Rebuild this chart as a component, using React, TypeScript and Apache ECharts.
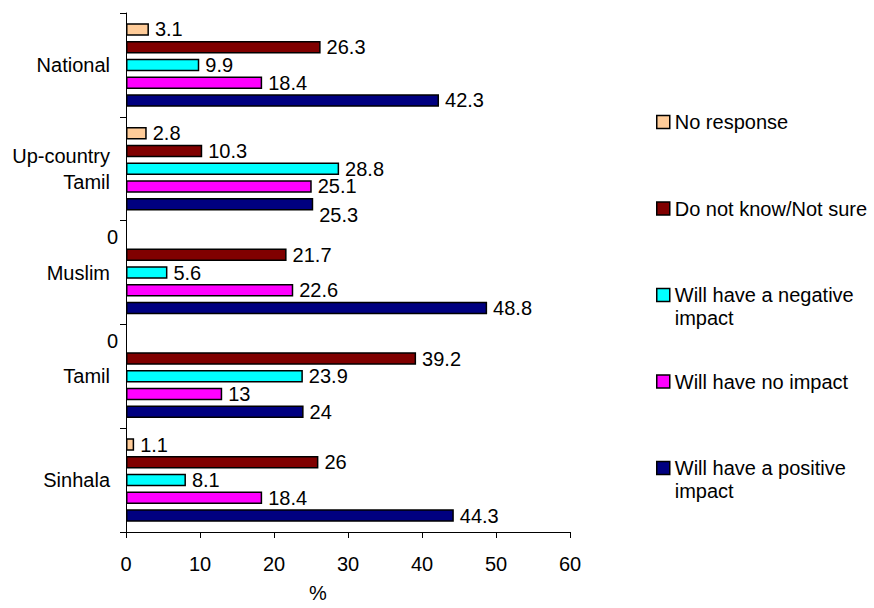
import React, { useEffect, useRef } from "react";
import * as echarts from "echarts";

const categories = ["National", "Up-country\nTamil", "Muslim", "Tamil", "Sinhala"];
const seriesNames = [
  "No response",
  "Do not know/Not sure",
  "Will have a negative impact",
  "Will have no impact",
  "Will have a positive impact",
];
const legendLabels = [
  "No response",
  "Do not know/Not sure",
  "\nWill have a negative\nimpact",
  "Will have no impact",
  "\nWill have a positive\nimpact",
];
const noResponse = [3.1, 2.8, 0, 0, 1.1];
const doNotKnow = [26.3, 10.3, 21.7, 39.2, 26];
const negativeImpact = [9.9, 28.8, 5.6, 23.9, 8.1];
const noImpact = [18.4, 25.1, 22.6, 13, 18.4];
const positiveImpact = [42.3, 25.3, 48.8, 24, 44.3];
const xTicks = { min: 0, max: 60, interval: 10 };

const colors = ["#FFCC99", "#800000", "#00FFFF", "#FF00FF", "#000080"];
// label vertical nudges (Excel overlap avoidance), [series][category]
const labelNudge: number[][] = [
  [0, 0, 0, 0, 0],
  [0, 0, 0, 0, 0],
  [0, 0, 0, 0, 0],
  [0, 0, 0, 0, 0],
  [0, 11, 0, 0, 0],
];

const FONT = "'Liberation Sans', Arial, sans-serif";

export default function App() {
  const ref = useRef<HTMLDivElement>(null);
  useEffect(() => {
    if (!ref.current) return;
    const chart = echarts.init(ref.current, undefined, { renderer: "svg" });
    const all = [noResponse, doNotKnow, negativeImpact, noImpact, positiveImpact];
    const series = all.map((vals, si) => ({
      type: "bar",
      name: seriesNames[si],
      barWidth: 12.5,
      barGap: "42%",
      itemStyle: { color: colors[si], borderColor: "#000", borderWidth: 1.5 },
      label: {
        show: true,
        position: "right",
        distance: 6,
        color: "#000",
        fontSize: 20,
        fontFamily: FONT,
      },
      data: vals.map((v, ci) => {
        const item: any = { value: v };
        if (v === 0) {
          item.itemStyle = { borderWidth: 0 };
          item.label = { position: "left", distance: 8 };
        }
        if (labelNudge[si][ci]) {
          item.label = { ...(item.label || {}), offset: [0, labelNudge[si][ci]] };
        }
        return item;
      }),
    }));
    const iconCenters = [122, 208.5, 295, 381.5, 468];
    const legends = seriesNames.map((n, i) => {
      const lines = legendLabels[i].split("\n").length;
      return {
        orient: "vertical",
        left: 656,
        top: iconCenters[i] - (lines * 23) / 2,
        padding: 0,
        itemWidth: 13,
        itemHeight: 13,
        icon: "rect",
        selectedMode: false,
        data: [n],
        formatter: () => legendLabels[i],
        itemStyle: { borderColor: "#000", borderWidth: 1.5 },
        textStyle: { color: "#000", fontSize: 20, fontFamily: FONT, lineHeight: 23 },
      };
    });
    chart.setOption({
      animation: false,
      textStyle: { fontFamily: FONT },
      grid: { left: 126, right: 304, top: 13, bottom: 68, containLabel: false },
      legend: legends,
      xAxis: {
        type: "value",
        min: xTicks.min,
        max: xTicks.max,
        interval: xTicks.interval,
        splitLine: { show: false },
        axisLine: { show: true, lineStyle: { color: "#000", width: 1 } },
        axisTick: { show: true, length: 6, lineStyle: { color: "#000" } },
        axisLabel: { color: "#000", fontSize: 20, fontFamily: FONT, margin: 22 },
        name: "%",
        nameLocation: "middle",
        nameGap: 51,
        nameTextStyle: { color: "#000", fontSize: 20, fontFamily: FONT, padding: [0, 60, 0, 0] },
      },
      yAxis: {
        type: "category",
        inverse: true,
        data: categories,
        axisLine: { show: true, lineStyle: { color: "#000", width: 1 } },
        axisTick: { show: true, length: 6, lineStyle: { color: "#000" } },
        axisLabel: { color: "#000", fontSize: 20, fontFamily: FONT, margin: 16, lineHeight: 26 },
      },
      series,
    });
    return () => chart.dispose();
  }, []);
  return (
    <div
      ref={ref}
      style={{ position: "fixed", left: 0, top: 0, width: 874, height: 608, background: "#fff" }}
    />
  );
}
